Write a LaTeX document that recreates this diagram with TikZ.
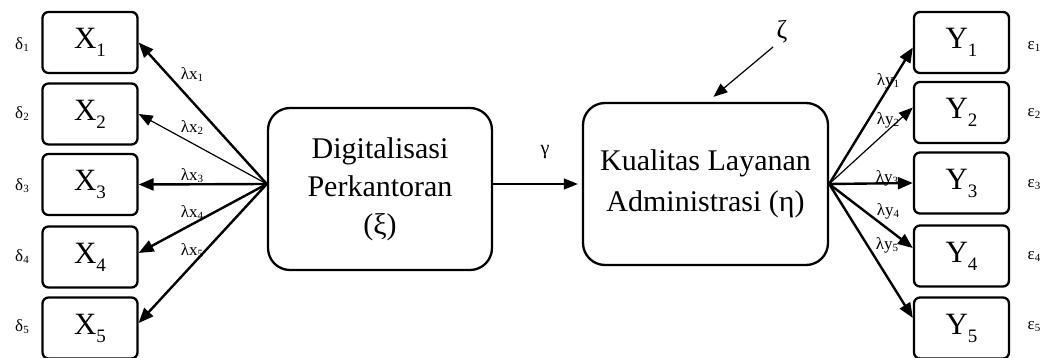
\documentclass[tikz,border=0pt]{standalone}
\usepackage{fontspec}
\setmainfont{Liberation Serif}
\usetikzlibrary{arrows.meta}

\newcommand{\bigsub}[1]{\raisebox{-8pt}{\fontsize{19}{19}\selectfont #1}}
\newcommand{\smallsub}[1]{\raisebox{-2pt}{\fontsize{11}{11}\selectfont #1}}

\begin{document}
\begin{tikzpicture}[x=1pt, y=-1pt,
    indicator/.style={draw=black, line width=2.3pt, rounded corners=6pt,
        minimum width=95pt, minimum height=61pt, inner sep=0pt,
        font=\fontsize{31}{36}\selectfont},
    latent/.style={draw=black, line width=2.3pt, rounded corners=22pt,
        minimum height=162pt, inner sep=0pt, align=center,
        font=\fontsize{30}{38}\selectfont},
    lbl/.style={inner sep=1pt, font=\fontsize{17}{17}\selectfont},
    edge/.style={line width=2.4pt, -{Triangle[length=15pt,width=12pt]}},
    thinedge/.style={line width=1.2pt, -{Triangle[length=14pt,width=11pt]}}
]
    \useasboundingbox (0,0) rectangle (1042,358);
    % indicators of xi
    \node[indicator] (x1) at (90,42.5) {X\bigsub{1}};
    \node[indicator] (x2) at (90,114) {X\bigsub{2}};
    \node[indicator] (x3) at (90,184.5) {X\bigsub{3}};
    \node[indicator] (x4) at (90,257) {X\bigsub{4}};
    \node[indicator] (x5) at (90,328) {X\bigsub{5}};
    % indicators of eta
    \node[indicator] (y1) at (961.5,42.5) {Y\bigsub{1}};
    \node[indicator] (y2) at (961.5,112.5) {Y\bigsub{2}};
    \node[indicator] (y3) at (961.5,183) {Y\bigsub{3}};
    \node[indicator] (y4) at (961.5,256) {Y\bigsub{4}};
    \node[indicator] (y5) at (961.5,328) {Y\bigsub{5}};
    % latent variables
    \node[latent, minimum width=224pt] (digital) at (380,189)
        {Digitalisasi\\Perkantoran\\(ξ)};
    \node[latent, minimum width=245pt] (kualitas) at (705.5,184)
        {Kualitas Layanan\\[3pt]Administrasi (η)};
    \node[font=\fontsize{26}{26}\selectfont] (zeta) at (782,32) {ζ};
    % error terms
    \node[lbl] (d1) at (22,45) {δ\smallsub{1}};
    \node[lbl] (d2) at (22,114) {δ\smallsub{2}};
    \node[lbl] (d3) at (22,186) {δ\smallsub{3}};
    \node[lbl] (d4) at (22,257) {δ\smallsub{4}};
    \node[lbl] (d5) at (22,327) {δ\smallsub{5}};
    \node[lbl] (e1) at (1034,46) {ε\smallsub{1}};
    \node[lbl] (e2) at (1034,113) {ε\smallsub{2}};
    \node[lbl] (e3) at (1034,185) {ε\smallsub{3}};
    \node[lbl] (e4) at (1034,256) {ε\smallsub{4}};
    \node[lbl] (e5) at (1034,327) {ε\smallsub{5}};
    % loadings
    \node[lbl] (lx1) at (192,75) {λx\smallsub{1}};
    \node[lbl] (lx2) at (192,128) {λx\smallsub{2}};
    \node[lbl] (lx3) at (192,176) {λx\smallsub{3}};
    \node[lbl] (lx4) at (192,213) {λx\smallsub{4}};
    \node[lbl] (lx5) at (192,251) {λx\smallsub{5}};
    \node[lbl] (ly1) at (888,81) {λy\smallsub{1}};
    \node[lbl] (ly2) at (888,120) {λy\smallsub{2}};
    \node[lbl] (ly3) at (887,178) {λy\smallsub{3}};
    \node[lbl] (ly4) at (888,211) {λy\smallsub{4}};
    \node[lbl] (ly5) at (887,245) {λy\smallsub{5}};
    \node[lbl, font=\fontsize{20}{20}\selectfont] (gamma) at (545,152) {γ};
    % paths
    \draw[edge] ([yshift=5pt]digital.west) -- (x1.east);
    \draw[thinedge] ([yshift=5pt]digital.west) -- (x2.east);
    \draw[edge] ([yshift=5pt]digital.west) -- (x3.east);
    \draw[edge] ([yshift=5pt]digital.west) -- ([yshift=4pt]x4.east);
    \draw[edge] ([yshift=5pt]digital.west) -- ([yshift=5pt]x5.east);
    \draw[edge] (kualitas.east) -- ([yshift=-5pt]y1.west);
    \draw[thinedge] (kualitas.east) -- ([yshift=5pt]y2.west);
    \draw[edge] (kualitas.east) -- (y3.west);
    \draw[edge] (kualitas.east) -- ([yshift=8pt]y4.west);
    \draw[edge] (kualitas.east) -- ([yshift=10pt]y5.west);
    \draw[thinedge] (digital.east |- kualitas.west) -- ([xshift=-4pt]kualitas.west);
    \draw[thinedge] (zeta.south west) -- ([xshift=8pt,yshift=5pt]kualitas.north);
\end{tikzpicture}
\end{document}
